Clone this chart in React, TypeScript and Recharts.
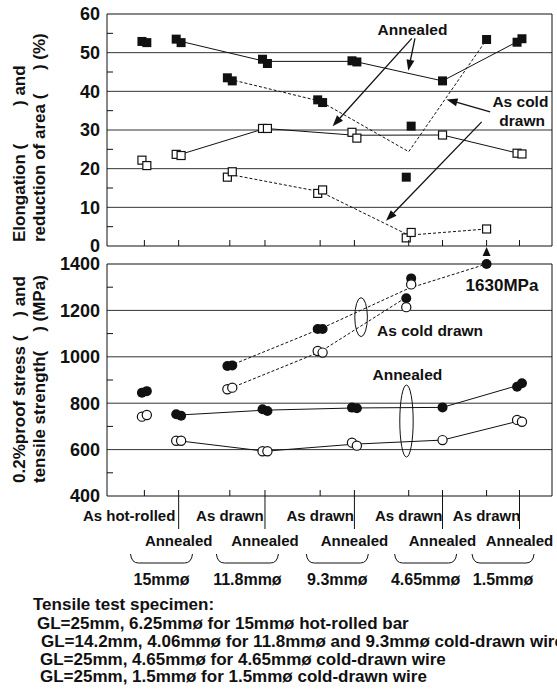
import React from "react";
import { ComposedChart, Scatter, Line, XAxis, YAxis, CartesianGrid, ReferenceLine, ReferenceDot } from "recharts";

const FONT = '"Liberation Sans", Arial, Helvetica, sans-serif';
const INK = "#111";
const TXT = { fontFamily: FONT, fill: INK, fontWeight: 700 };

// x categories, left to right
const conditions = ["As hot-rolled", "Annealed", "As drawn", "Annealed", "As drawn", "Annealed", "As drawn", "Annealed", "As drawn", "Annealed"];
const xPos = [8.4, 16.1, 27.6, 35.5, 47.9, 55.6, 67.8, 75.4, 85.3, 92.7];
const sizes = ["15mmø", "11.8mmø", "9.3mmø", "4.65mmø", "1.5mmø"];
const annealedIdx = [1, 3, 5, 7, 9];
const drawnIdx = [2, 4, 6, 8];

// two specimens per condition (left / right marker)
const raLeft = [52.9, 53.5, 43.5, 48.3, 37.8, 47.9, 17.8, 42.7, 53.4, 52.7];
const raRight = [52.6, 52.6, 42.7, 47.2, 37.1, 47.6, 31.0, null, null, 53.6];
const elLeft = [22.2, 23.7, 17.8, 30.4, 13.6, 29.4, 2.1, 28.7, 4.4, 24.0];
const elRight = [20.8, 23.4, 19.2, 30.4, 14.5, 27.9, 3.5, null, null, 23.8];
const tsLeft = [845, 752, 960, 774, 1120, 781, 1252, 782, 1630, 871];
const tsRight = [852, 746, 963, 766, 1120, 778, 1338, null, null, 886];
const psLeft = [742, 638, 860, 593, 1025, 630, 1214, 641, null, 728];
const psRight = [749, 638, 867, 593, 1018, 617, 1312, null, null, 720];

const topTicks = [0, 5, 10, 15, 20, 25, 30, 35, 40, 45, 50, 55, 60];
const topGrid = [10, 20, 30, 40, 50];
const botTicks = [400, 500, 600, 700, 800, 900, 1000, 1100, 1200, 1300, 1400];
const botGrid = [600, 800, 1000, 1200];
const BOT_MIN = 400;
const BOT_MAX = 1400;

const DX = 0.55;

function split(left: (number | null)[], right: (number | null)[], cap?: number) {
  const c = (n: number) => (cap == null ? n : Math.min(n, cap));
  const l: { x: number; y: number }[] = [];
  const r: { x: number; y: number }[] = [];
  left.forEach((v, i) => {
    const w = right[i];
    if (v != null) l.push({ x: w == null ? xPos[i] : xPos[i] - DX, y: c(v) });
    if (w != null) r.push({ x: xPos[i] + DX, y: c(w) });
  });
  return [l, r];
}

function trend(left: (number | null)[], right: (number | null)[], idx: number[], cap?: number) {
  return idx
    .filter((i) => left[i] != null)
    .map((i) => {
      const vals = [left[i], right[i]].filter((v) => v != null) as number[];
      const m = vals.reduce((a, b) => a + b, 0) / vals.length;
      return { x: xPos[i], y: cap == null ? m : Math.min(m, cap) };
    });
}

const SqFill = (p: any) => <rect x={p.cx - 4.5} y={p.cy - 4.5} width={9} height={9} fill={INK} />;
const SqOpen = (p: any) => <rect x={p.cx - 4} y={p.cy - 4} width={8} height={8} fill="#fff" stroke={INK} strokeWidth={1.2} />;
const CirFill = (p: any) => <circle cx={p.cx} cy={p.cy} r={5} fill={INK} />;
const CirOpen = (p: any) => <circle cx={p.cx} cy={p.cy} r={4.6} fill="#fff" stroke={INK} strokeWidth={1.2} />;

const TickUp = (p: any) => <line x1={p.x} x2={p.x} y1={p.y} y2={p.y - 6} stroke={INK} />;
const TickDown = (p: any) => <line x1={p.x} x2={p.x} y1={p.y} y2={p.y + 6} stroke={INK} />;

function YTick(p: any) {
  const v = p.payload.value;
  if (v % p.major === 0)
    return (
      <text x={p.x} y={p.y} dy="0.36em" textAnchor="end" fontSize={18} {...TXT}>
        {v}
      </text>
    );
  return <line x1={p.x + 7} x2={p.x + 13} y1={p.y} y2={p.y} stroke={INK} />;
}

function CatTick(p: any) {
  const { x, y, index } = p;
  const upper = index % 2 === 0;
  return (
    <g>
      <line x1={x} x2={x} y1={y} y2={y - 6} stroke={INK} />
      {!upper && <line x1={x} x2={x} y1={y} y2={y + 33} stroke={INK} />}
      <text x={index === 0 ? x + 31 : x} y={y + (upper ? 25 : 50)} textAnchor={index === 0 ? "end" : "middle"} fontSize={15} {...TXT}>
        {conditions[index]}
      </text>
    </g>
  );
}

// brace + diameter under each pair of conditions
const pairBrace = (label: string) => (p: any) => {
  const x = p.cx;
  const y = p.cy + 55;
  const w = 31;
  const d = `M${x - w},${y + 3} Q${x - w + 1},${y + 12} ${x - w + 8},${y + 12} L${x + w - 8},${y + 12} Q${x + w - 1},${y + 12} ${x + w},${y + 3}`;
  return (
    <g>
      <path d={d} fill="none" stroke={INK} strokeWidth={1} />
      <text x={x} y={y + 34} textAnchor="middle" fontSize={16} {...TXT}>
        {label}
      </text>
    </g>
  );
};

function Arrow(p: any) {
  const { x1, y1, x2, y2 } = p;
  const a = Math.atan2(y2 - y1, x2 - x1);
  const L = 11;
  const W = 4;
  const bx = x2 - L * Math.cos(a);
  const by = y2 - L * Math.sin(a);
  const nx = -Math.sin(a) * W;
  const ny = Math.cos(a) * W;
  return (
    <g>
      <line x1={x1} y1={y1} x2={bx} y2={by} stroke={INK} strokeWidth={1.3} />
      <polygon points={`${x2},${y2} ${bx + nx},${by + ny} ${bx - nx},${by - ny}`} fill={INK} />
    </g>
  );
}

const note = (text: string) => (p: any) => (
  <text x={p.cx} y={p.cy} dy="0.36em" textAnchor="middle" fontSize={15.5} {...TXT}>
    {text}
  </text>
);

const topNotes = [
  { x: 68.65, y: 55.9, text: "Annealed" },
  { x: 92.9, y: 37.3, text: "As cold" },
  { x: 93.3, y: 32.4, text: "drawn" },
];
const topArrows = [
  { from: [68.5, 53.7], to: [50.7, 31.0] },
  { from: [69.2, 53.7], to: [67.7, 45.3] },
  { from: [86.1, 34.7], to: [76.3, 37.9] },
  { from: [84.2, 32.1], to: [62.7, 6.5] },
];
const botNotes = [
  { x: 72.6, y: 1115, text: "As cold drawn" },
  { x: 67.5, y: 926, text: "Annealed" },
];
const rings = [
  { x: 57.1, y: 1171, rx: 6.3, ry: 19.5 },
  { x: 67.3, y: 723, rx: 6.7, ry: 36 },
];

const OffScale = (p: any) => (
  <g>
    <polygon points={`${p.cx},${p.cy - 17} ${p.cx - 4},${p.cy - 8} ${p.cx + 4},${p.cy - 8}`} fill={INK} />
    <text x={p.cx - 21} y={p.cy + 27} fontSize={17} {...TXT}>
      {tsLeft[8]}MPa
    </text>
  </g>
);

function TopPanel() {
  const [raL, raR] = split(raLeft, raRight);
  const [elL, elR] = split(elLeft, elRight);
  return (
    <ComposedChart width={557} height={262} margin={{ top: 0, right: 5, bottom: 0, left: 0 }}>
      <CartesianGrid horizontal vertical={false} horizontalValues={topGrid} stroke="#333" />
      <XAxis dataKey="x" type="number" domain={[0, 100]} ticks={xPos} interval={0} height={16} tickSize={0} tickMargin={0} tickLine={false} axisLine={{ stroke: INK }} tick={<TickUp />} />
      <XAxis xAxisId="top" orientation="top" type="number" domain={[0, 100]} ticks={xPos} interval={0} height={14} tickSize={0} tickMargin={0} tickLine={false} axisLine={{ stroke: INK }} tick={<TickDown />} />
      <YAxis dataKey="y" type="number" domain={[0, 60]} ticks={topTicks} interval={0} width={107} tickSize={0} tickMargin={7} tickLine={false} axisLine={{ stroke: INK }} tick={<YTick major={10} />} />
      <ReferenceLine x={100} stroke={INK} />

      <Line data={trend(raLeft, raRight, annealedIdx)} dataKey="y" type="linear" stroke={INK} strokeWidth={1} dot={false} isAnimationActive={false} />
      <Line data={trend(raLeft, raRight, drawnIdx)} dataKey="y" type="linear" stroke={INK} strokeWidth={1} strokeDasharray="3 2" dot={false} isAnimationActive={false} />
      <Line data={trend(elLeft, elRight, annealedIdx)} dataKey="y" type="linear" stroke={INK} strokeWidth={1} dot={false} isAnimationActive={false} />
      <Line data={trend(elLeft, elRight, drawnIdx)} dataKey="y" type="linear" stroke={INK} strokeWidth={1} strokeDasharray="3 2" dot={false} isAnimationActive={false} />

      <Scatter data={raL} dataKey="y" shape={SqFill} isAnimationActive={false} />
      <Scatter data={raR} dataKey="y" shape={SqFill} isAnimationActive={false} />
      <Scatter data={elL} dataKey="y" shape={SqOpen} isAnimationActive={false} />
      <Scatter data={elR} dataKey="y" shape={SqOpen} isAnimationActive={false} />

      {topArrows.map((a, i) => (
        <ReferenceLine key={"a" + i} segment={[{ x: a.from[0], y: a.from[1] }, { x: a.to[0], y: a.to[1] }]} shape={Arrow} ifOverflow="visible" />
      ))}
      {topNotes.map((n, i) => (
        <ReferenceDot key={"n" + i} x={n.x} y={n.y} r={0} shape={note(n.text)} ifOverflow="visible" />
      ))}
    </ComposedChart>
  );
}

function BottomPanel() {
  const [tsL, tsR] = split(tsLeft, tsRight, BOT_MAX);
  const [psL, psR] = split(psLeft, psRight, BOT_MAX);
  const pairX = [0, 2, 4, 6, 8].map((i) => (xPos[i] + xPos[i + 1]) / 2);
  return (
    <ComposedChart width={557} height={443} margin={{ top: 0, right: 5, bottom: 0, left: 0 }}>
      <CartesianGrid horizontal vertical={false} horizontalValues={botGrid} stroke="#333" />
      <XAxis dataKey="x" type="number" domain={[0, 100]} ticks={xPos} interval={0} height={193} tickSize={0} tickMargin={0} tickLine={false} axisLine={{ stroke: INK }} tick={<CatTick />} />
      <XAxis xAxisId="top" orientation="top" type="number" domain={[0, 100]} ticks={xPos} interval={0} height={18} tickSize={0} tickMargin={0} tickLine={false} axisLine={{ stroke: INK }} tick={<TickDown />} />
      <YAxis dataKey="y" type="number" domain={[BOT_MIN, BOT_MAX]} ticks={botTicks} interval={0} width={107} tickSize={0} tickMargin={7} tickLine={false} axisLine={{ stroke: INK }} tick={<YTick major={200} />} />
      <ReferenceLine x={100} stroke={INK} />

      <Line data={trend(tsLeft, tsRight, annealedIdx)} dataKey="y" type="linear" stroke={INK} strokeWidth={1} dot={false} isAnimationActive={false} />
      <Line data={trend(tsLeft, tsRight, drawnIdx, BOT_MAX)} dataKey="y" type="linear" stroke={INK} strokeWidth={1} strokeDasharray="3 2" dot={false} isAnimationActive={false} />
      <Line data={trend(psLeft, psRight, annealedIdx)} dataKey="y" type="linear" stroke={INK} strokeWidth={1} dot={false} isAnimationActive={false} />
      <Line data={trend(psLeft, psRight, drawnIdx, BOT_MAX)} dataKey="y" type="linear" stroke={INK} strokeWidth={1} strokeDasharray="3 2" dot={false} isAnimationActive={false} />

      <Scatter data={tsL} dataKey="y" shape={CirFill} isAnimationActive={false} />
      <Scatter data={tsR} dataKey="y" shape={CirFill} isAnimationActive={false} />
      <Scatter data={psL} dataKey="y" shape={CirOpen} isAnimationActive={false} />
      <Scatter data={psR} dataKey="y" shape={CirOpen} isAnimationActive={false} />

      {rings.map((r, i) => (
        <ReferenceDot key={"r" + i} x={r.x} y={r.y} r={0} ifOverflow="visible" shape={(p: any) => <ellipse cx={p.cx} cy={p.cy} rx={r.rx} ry={r.ry} fill="none" stroke={INK} strokeWidth={1} />} />
      ))}
      {botNotes.map((n, i) => (
        <ReferenceDot key={"n" + i} x={n.x} y={n.y} r={0} shape={note(n.text)} ifOverflow="visible" />
      ))}
      <ReferenceDot x={xPos[8]} y={BOT_MAX} r={0} shape={OffScale} ifOverflow="visible" />
      {pairX.map((px, i) => (
        <ReferenceDot key={"p" + i} x={px} y={BOT_MIN} r={0} shape={pairBrace(sizes[i])} ifOverflow="visible" />
      ))}
    </ComposedChart>
  );
}

const NB = (n: number) => "\u00A0".repeat(n);
const yLabels = [
  { lines: [`Elongation (${NB(8)}) and`, `reduction of area (${NB(5)}) (%)`], start: 242 },
  { lines: [`0.2%proof stress (${NB(4)}) and`, `tensile strength(${NB(4)}) (MPa)`], start: 483 },
];
const notesText = [
  { text: "Tensile test specimen:", x: 33, y: 609.5 },
  { text: "GL=25mm, 6.25mmø for 15mmø hot-rolled bar", x: 37, y: 629 },
  { text: "GL=14.2mm, 4.06mmø for 11.8mmø and 9.3mmø cold-drawn wire", x: 41, y: 647 },
  { text: "GL=25mm, 4.65mmø for 4.65mmø cold-drawn wire", x: 40, y: 664.5 },
  { text: "GL=25mm, 1.5mmø for 1.5mmø cold-drawn wire", x: 40, y: 681.5 },
];

export default function App() {
  return (
    <div style={{ position: "absolute", left: 0, top: 0, width: 557, height: 689, overflow: "hidden", background: "#fff" }}>
      <div style={{ position: "absolute", left: 0, top: 0 }}>
        <TopPanel />
      </div>
      <div style={{ position: "absolute", left: 0, top: 246 }}>
        <BottomPanel />
      </div>
      <svg width={557} height={689} style={{ position: "absolute", left: 0, top: 0, pointerEvents: "none" }}>
        {yLabels.map((g, gi) =>
          g.lines.map((t, i) => (
            <text key={gi + "-" + i} transform={`translate(${i === 0 ? 25 : 44.5},${g.start}) rotate(-90)`} fontSize={17} {...TXT}>
              {t}
            </text>
          ))
        )}
        {notesText.map((n, i) => (
          <text key={i} x={n.x} y={n.y} fontSize={17} {...TXT}>
            {n.text}
          </text>
        ))}
      </svg>
    </div>
  );
}
